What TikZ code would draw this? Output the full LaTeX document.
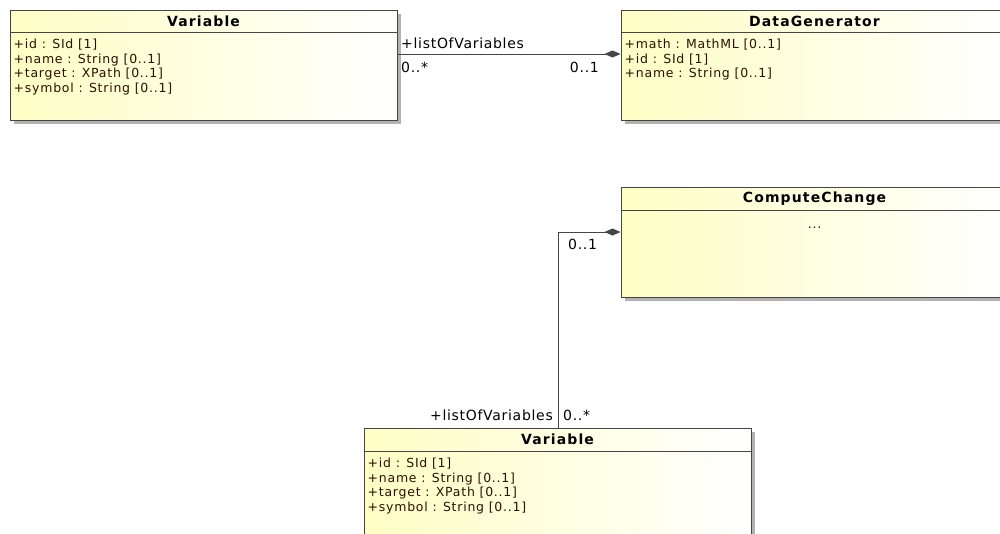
\documentclass[tikz,border=0pt]{standalone}
\usepackage{fontspec}
\setmainfont{DejaVu Sans}
\newfontfamily\attrfont[LetterSpace=6]{DejaVu Sans}
\newfontfamily\titlefont[LetterSpace=8]{DejaVu Sans Bold}
\newfontfamily\lblfont[LetterSpace=5]{DejaVu Sans}
\usetikzlibrary{arrows.meta,shadows,positioning}
\definecolor{boxyellow}{HTML}{FEFEC4}
\definecolor{boxline}{HTML}{454545}
\definecolor{attrcol}{HTML}{2E1000}
\tikzset{
  classbox/.style={rectangle, draw=boxline, line width=1pt, minimum width=387pt, minimum height=110pt, inner sep=0pt,
    left color=boxyellow, right color=white,
    drop shadow={shadow xshift=4pt, shadow yshift=-4pt, fill=black!30, opacity=1}},
  classtitle/.style={font=\titlefont\fontsize{14}{16}\selectfont, inner sep=0pt},
  attrs/.style={font=\attrfont\fontsize{12.5}{14.5}\selectfont, text=attrcol, align=left, inner sep=0pt, anchor=north west},
  sepline/.style={draw=boxline, line width=1pt},
  assoc/.style={draw=boxline, line width=1pt, {Diamond[length=16pt,width=7pt,fill=boxline]}-},
  lbl/.style={font=\lblfont\fontsize{14}{16}\selectfont, inner sep=0pt}
}
\begin{document}
\begin{tikzpicture}[x=1pt,y=-1pt]
\useasboundingbox (0,0) rectangle (1000,533);
\clip (0,0) rectangle (1000,533);
% boxes
\node[classbox] (var1) at (203.5,65) {};
\node[classbox] (dg) at (814.5,65) {};
\node[classbox] (cc) at (814.5,242) {};
\node[classbox] (var2) at (557.5,483) {};
% separators
\draw[sepline] ([yshift=-23pt]var1.north west) -- ([yshift=-23pt]var1.north east);
\draw[sepline] ([yshift=-23pt]dg.north west) -- ([yshift=-23pt]dg.north east);
\draw[sepline] ([yshift=-24pt]cc.north west) -- ([yshift=-24pt]cc.north east);
\draw[sepline] ([yshift=-24pt]var2.north west) -- ([yshift=-24pt]var2.north east);
% titles
\node[classtitle] (var1t) at ([yshift=-11.5pt]var1.north) {Variable};
\node[classtitle] (dgt) at ([yshift=-11.5pt]dg.north) {DataGenerator};
\node[classtitle] (cct) at ([yshift=-12pt]cc.north) {ComputeChange};
\node[classtitle] (var2t) at ([yshift=-12pt]var2.north) {Variable};
% attributes
\node[attrs] (var1a) at ([xshift=4pt,yshift=-29.5pt]var1.north west) {+id : SId [1]\\+name : String [0..1]\\+target : XPath [0..1]\\+symbol : String [0..1]};
\node[attrs] (dga) at ([xshift=4pt,yshift=-29.5pt]dg.north west) {+math : MathML [0..1]\\+id : SId [1]\\+name : String [0..1]};
\node[attrs, anchor=north] (cca) at ([yshift=-40pt]cc.north) {...};
\node[attrs] (var2a) at ([xshift=4pt,yshift=-30.5pt]var2.north west) {+id : SId [1]\\+name : String [0..1]\\+target : XPath [0..1]\\+symbol : String [0..1]};
% connector 1
\draw[assoc] ([yshift=11pt]dg.west) -- ([yshift=11pt]var1.east);
\node[lbl, anchor=west] (l1) at (401,43) {+listOfVariables};
\node[lbl, anchor=west] (m1) at (401,67) {0..*};
\node[lbl, anchor=east] (m2) at (599,67) {0..1};
% connector 2
\draw[assoc] ([yshift=10pt]cc.west) -| ([xshift=0.5pt]var2.north);
\node[lbl, anchor=west] (m3) at (568,244) {0..1};
\node[lbl, anchor=east] (l2) at (553,415) {+listOfVariables};
\node[lbl, anchor=west] (m4) at (563,415) {0..*};
\end{tikzpicture}
\end{document}
